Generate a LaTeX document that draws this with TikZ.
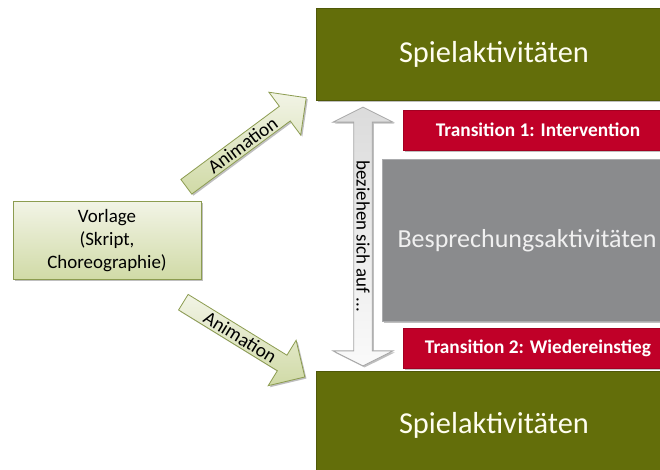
\documentclass[tikz,border=0pt]{standalone}
\usepackage{fontspec}
\setmainfont{Carlito}
\usetikzlibrary{shapes.arrows,shadows}

\definecolor{olivebox}{RGB}{99,110,10}
\definecolor{redbox}{RGB}{192,0,40}
\definecolor{greybox}{RGB}{138,139,141}
\definecolor{greyedge}{RGB}{170,171,173}
\definecolor{paletop}{RGB}{242,244,230}
\definecolor{palebot}{RGB}{208,218,166}
\definecolor{paleedge}{RGB}{140,156,80}

\tikzset{
  softshadow/.style={drop shadow={shadow xshift=1.2pt,shadow yshift=-1.2pt,opacity=0.25,fill=black}},
  playbox/.style={fill=olivebox,draw=olivebox!80!black,line width=0.4pt,
    text=white!94!yellow,inner sep=0pt,font=\fontsize{22.8}{27}\selectfont,softshadow},
  transbox/.style={fill=redbox,draw=redbox!85!black,line width=0.4pt,text=white,
    inner sep=0pt,font=\bfseries\fontsize{14.5}{17}\selectfont,softshadow},
  talkbox/.style={fill=greybox,draw=greyedge,line width=0.8pt,text=white!94!black,
    inner sep=0pt,font=\fontsize{19.5}{23}\selectfont,softshadow},
  sourcebox/.style={top color=paletop,bottom color=palebot,draw=paleedge,line width=0.6pt,
    align=center,inner sep=0pt,font=\fontsize{14.2}{17.5}\selectfont,softshadow},
  animarrow/.style={single arrow,top color=paletop,bottom color=palebot,draw=paleedge,
    line width=0.6pt,inner sep=0pt,single arrow head extend=10.3pt,
    minimum width=40pt,font=\fontsize{14.5}{17}\selectfont,anchor=tail,softshadow},
  relarrow/.style={double arrow,top color=gray!28,bottom color=white!96!gray,draw=gray!70,
    line width=0.6pt,inner sep=0pt,double arrow head extend=12pt,double arrow tip angle=127,
    minimum width=45pt,font=\fontsize{14.2}{16}\selectfont,softshadow}
}

\begin{document}
\begin{tikzpicture}[x=0.75pt,y=-0.75pt]
  \useasboundingbox (0,0) rectangle (660,470);
  \clip (0,0) rectangle (660,470);
  \fill[white] (0,0) rectangle (660,470);

  % play activities, top and bottom
  \node[playbox,minimum width=267pt,minimum height=69pt] (playtop) at (494,54) {\raisebox{-2pt}{Spielaktivitäten}};
  \node[playbox,minimum width=267pt,minimum height=80pt] (playbot) at (494,425) {Spielaktivitäten};

  % transitions and discussion block
  \node[transbox,minimum width=202pt,minimum height=30pt] (trans1) at (538,130) {Transition 1: Intervention};
  \node[talkbox,minimum width=217pt,minimum height=121pt] (talk) at (527,240.5) {Besprechungsaktivitäten};
  \node[transbox,minimum width=202pt,minimum height=30pt] (trans2) at (538,348) {Transition 2: Wiedereinstieg};

  % script box
  \node[sourcebox,minimum width=141pt,minimum height=59pt] (src) at (107,240.5)
    {Vorlage\\(Skript,\\Choreographie)};

  % animation arrows
  \coordinate (uptail) at (186,187);
  \coordinate (lowtail) at (183,302);
  \node[animarrow,rotate=36.6,minimum height=112pt] (animup) at (uptail) {Animation};
  \node[animarrow,rotate=-31.6,minimum height=107pt] (animdown) at (lowtail) {Animation};

  % "refers to" double arrow
  \node[relarrow,rotate=-90,minimum height=194pt] (rel) at (363,236.5) {beziehen sich auf ...};
\end{tikzpicture}
\end{document}
